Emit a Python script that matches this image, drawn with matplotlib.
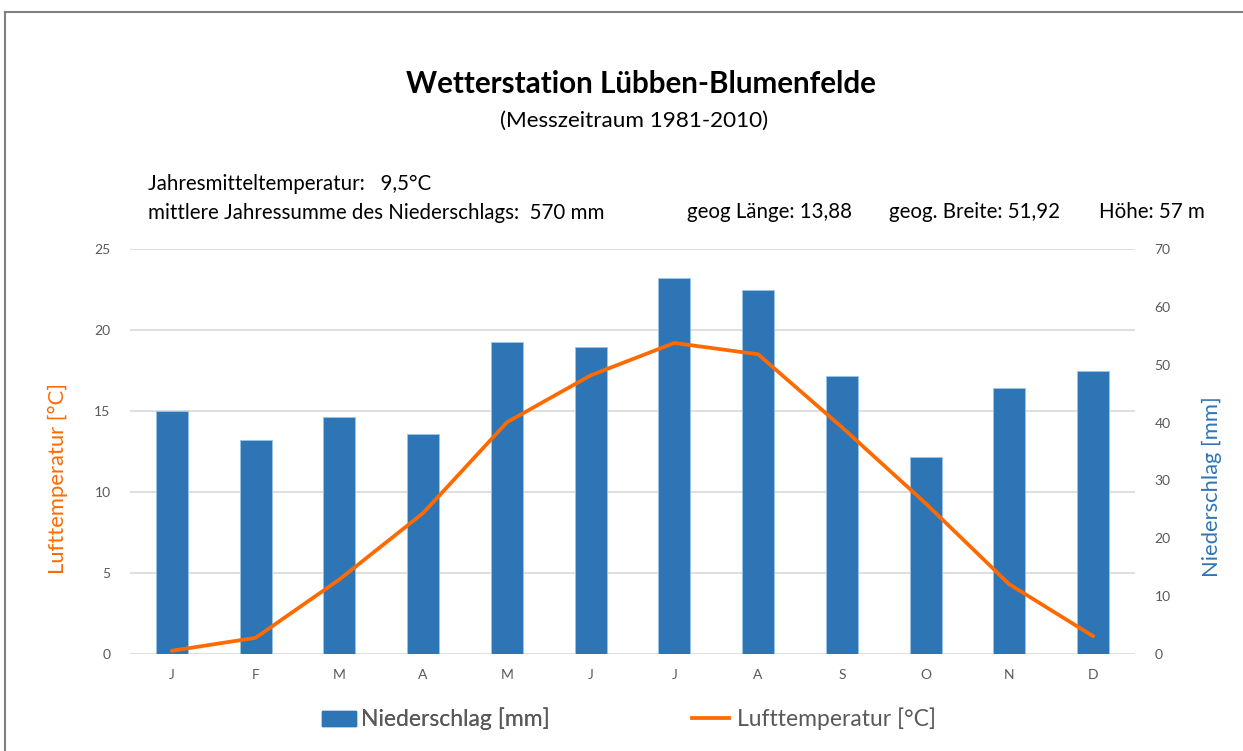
import matplotlib
matplotlib.use("Agg")
import matplotlib.pyplot as plt
from matplotlib.lines import Line2D
from matplotlib.patches import Patch

months = ["J", "F", "M", "A", "M", "J", "J", "A", "S", "O", "N", "D"]
niederschlag = [42, 37, 41, 38, 54, 53, 65, 63, 48, 34, 46, 49]
temperatur = [0.2, 1.0, 4.6, 8.7, 14.3, 17.2, 19.2, 18.5, 14.0, 9.3, 4.3, 1.1]
temp_ticks = [0, 5, 10, 15, 20, 25]
prec_ticks = [0, 10, 20, 30, 40, 50, 60, 70]

BLUE = "#2E75B6"
ORANGE = "#FF6A00"
GRAY = "#595959"
FONT = ["Lato", "DejaVu Sans"]
plt.rcParams["font.family"] = FONT

W, H = 1243, 751
fig = plt.figure(figsize=(W / 100, H / 100), dpi=100)

def fx(px):
    return px / W

def fy(py):
    return 1 - py / H

ax = fig.add_axes([fx(130), fy(654), fx(1135) - fx(130), fy(249) - fy(654)])
ax2 = ax.twinx()
ax.set_zorder(ax2.get_zorder() + 1)
ax.patch.set_visible(False)

x = list(range(len(months)))
tmax = temp_ticks[-1]
pmax = prec_ticks[-1]

# gridlines behind bars (aligned with temperature ticks)
for t in temp_ticks:
    ax2.axhline(t * pmax / tmax, color="#D9D9D9", lw=1.2, zorder=0)

ax2.bar(x, niederschlag, width=0.38, color=BLUE, edgecolor="#9DC3E6",
        linewidth=0.6, zorder=2)
ax.plot(x, temperatur, color=ORANGE, lw=2.7, solid_capstyle="round",
        solid_joinstyle="round", zorder=3)

ax.set_xlim(-0.5, len(months) - 0.5)
ax.set_ylim(0, tmax)
ax2.set_ylim(0, pmax)
ax.set_yticks(temp_ticks)
ax2.set_yticks(prec_ticks)
ax.set_xticks(x)
ax.set_xticklabels(months)

for a in (ax, ax2):
    for s in a.spines.values():
        s.set_visible(False)
    a.tick_params(length=0, colors=GRAY, labelsize=10)
ax.tick_params(axis="y", pad=14)
ax2.tick_params(axis="y", pad=14)
ax.tick_params(axis="x", pad=11)

fig.text(fx(58), fy(479), "Lufttemperatur [°C]", color=ORANGE, fontsize=15.8,
         rotation=90, ha="center", va="center")
fig.text(fx(1212), fy(487), "Niederschlag [mm]", color=BLUE, fontsize=15.8,
         rotation=90, ha="center", va="center")

fig.text(fx(641), fy(84), "Wetterstation Lübben-Blumenfelde", fontsize=21.3,
         fontweight="bold", ha="center", va="center", color="black")
fig.text(fx(634), fy(121), "(Messzeitraum 1981-2010)", fontsize=16.2,
         ha="center", va="center", color="black")

TS = 14.8
fig.text(fx(148), fy(184), "Jahresmitteltemperatur:   9,5°C", fontsize=TS,
         ha="left", va="center")
fig.text(fx(148), fy(213), "mittlere Jahressumme des Niederschlags:  570 mm",
         fontsize=TS, ha="left", va="center")
fig.text(fx(687), fy(212), "geog Länge: 13,88", fontsize=TS, ha="left", va="center")
fig.text(fx(889), fy(212), "geog. Breite: 51,92", fontsize=TS, ha="left", va="center")
fig.text(fx(1099), fy(212), "Höhe: 57 m", fontsize=TS, ha="left", va="center")

LS = 16.5
leg1 = fig.legend([Patch(facecolor=BLUE, edgecolor=BLUE)], ["Niederschlag [mm]"],
                  loc="center left", bbox_to_anchor=(fx(322), fy(719)),
                  frameon=False, fontsize=LS, borderpad=0, borderaxespad=0,
                  handlelength=1.5, handletextpad=0.22, handleheight=0.65)
leg2 = fig.legend([Line2D([0], [0], color=ORANGE, lw=2.7)], ["Lufttemperatur [°C]"],
                  loc="center left", bbox_to_anchor=(fx(692), fy(719)),
                  frameon=False, fontsize=LS, borderpad=0, borderaxespad=0,
                  handlelength=1.6, handletextpad=0.35)
for lg in (leg1, leg2):
    for t in lg.get_texts():
        t.set_color(GRAY)
fig.add_artist(leg1)

# outer frame (top and left edges visible)
fig.add_artist(Line2D([fx(5), 1], [fy(12), fy(12)], color="#808080", lw=1.5))
fig.add_artist(Line2D([fx(5), fx(5)], [fy(12), 0], color="#808080", lw=1.5))

fig.savefig("out.png", dpi=100)
